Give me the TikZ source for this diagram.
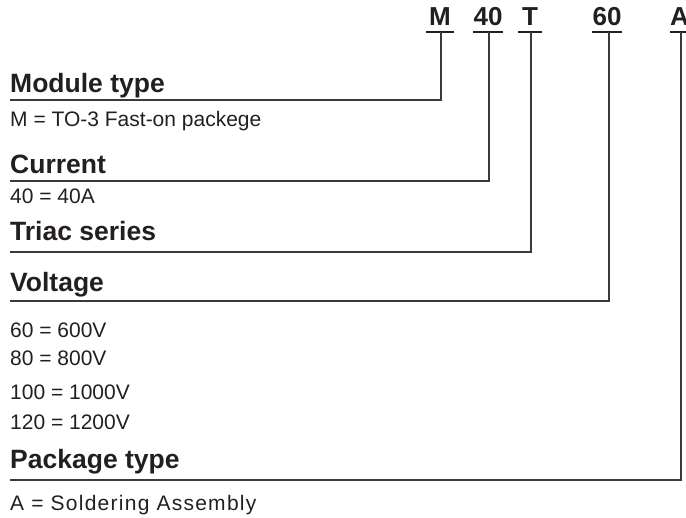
\documentclass[tikz,border=0pt]{standalone}
\usepackage{fontspec}
\setmainfont{Liberation Sans}
\definecolor{txt}{HTML}{231F20}
\definecolor{ln}{HTML}{3A3A3A}
\begin{document}
\begin{tikzpicture}[x=1pt,y=-1pt,
  code/.style={font=\fontsize{26}{26}\selectfont\bfseries, text=txt, inner sep=0pt, anchor=base},
  head/.style={font=\fontsize{26.5}{26.5}\selectfont\bfseries, text=txt, inner sep=0pt, anchor=base west},
  body/.style={font=\fontsize{21}{21}\selectfont, text=txt, inner sep=0pt, anchor=base west},
  widebody/.style={body, font=\fontsize{21}{21}\selectfont\addfontfeature{LetterSpace=6}},
  lead/.style={draw=ln, line width=1.5pt},
  bar/.style={draw=txt, line width=2pt}]
\useasboundingbox (0,0) rectangle (686,518);
% part-number codes
\node[code] (kM)  at (440,26) {M};
\node[code] (k40) at (488,26) {40};
\node[code] (kT)  at (530,26) {T};
\node[code] (k60) at (607,26) {60};
\node[code,anchor=base west] (kA) at (670,26) {A};
% underlines of codes
\draw[bar] (426,32) -- (454,32);
\draw[bar] (473,32) -- (503,32);
\draw[bar] (518,32) -- (542,32);
\draw[bar] (592,32) -- (622,32);
\draw[bar] (670,32) -- (690,32);
% coordinates
\coordinate (tM) at (441,32);  \coordinate (eM) at (10,100);
\coordinate (t40) at (489,32); \coordinate (e40) at (10,181);
\coordinate (tT) at (531,32);  \coordinate (eT) at (10,252);
\coordinate (t60) at (609,32); \coordinate (e60) at (10,301);
\coordinate (tA) at (681,32);  \coordinate (eA) at (10,480);
% headings and descriptions
\node[head] (hM) at (10,93) {Module type};
\node[body] (dM) at (10,127) {M = TO-3 Fast-on packege};
\node[head] (h40) at (10,174) {Current};
\node[body] (d40) at (10,204) {40 = 40A};
\node[head] (hT) at (10,241) {Triac series};
\node[head] (h60) at (10,292) {Voltage};
\node[body] (d60a) at (10,338) {60 = 600V};
\node[body] (d60b) at (10,366) {80 = 800V};
\node[body] (d60c) at (10,400) {100 = 1000V};
\node[body] (d60d) at (10,430) {120 = 1200V};
\node[head] (hA) at (10,469) {Package type};
\node[widebody] (dA) at (10,511) {A = Soldering Assembly};
% leaders
\draw[lead] (tM) |- (eM);
\draw[lead] (t40) |- (e40);
\draw[lead] (tT) |- (eT);
\draw[lead] (t60) |- (e60);
\draw[lead] (tA) |- (eA);
\end{tikzpicture}
\end{document}
